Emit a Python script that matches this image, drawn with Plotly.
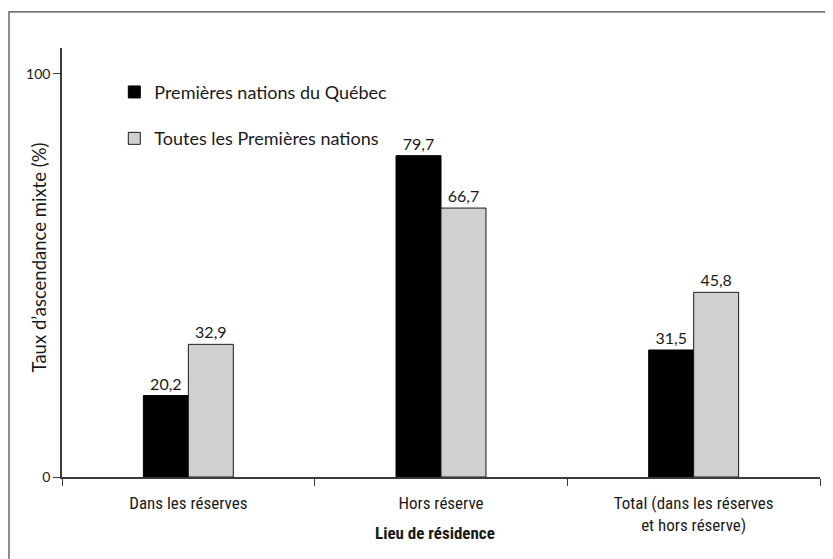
import plotly.graph_objects as go

# Données
lieux = ["Dans les réserves", "Hors réserve", "Total (dans les réserves<br>et hors réserve)"]
quebec = [20.2, 79.7, 31.5]
toutes = [32.9, 66.7, 45.8]
noms_series = ["Premières nations du Québec", "Toutes les Premières nations"]
y_ticks = [0, 100]
y_tick_labels = ["0", "100"]

police_normale = "Lato, 'Open Sans', sans-serif"
police_etroite = "'Liberation Sans Narrow', 'Roboto Condensed', 'Liberation Sans', sans-serif"

fig = go.Figure()
fig.add_trace(go.Bar(
    x=lieux, y=quebec, name=noms_series[0], legendgroup="q",
    marker=dict(color="#000000", line=dict(color="#000000", width=1)),
    texttemplate="%{y:.1f}", textposition="outside", cliponaxis=False,
    textfont=dict(family=police_normale, size=16, color="#1a1a1a"),
))
fig.add_trace(go.Bar(
    x=lieux, y=toutes, name=noms_series[1], legendgroup="t",
    marker=dict(color="#d0d0d0", line=dict(color="#1a1a1a", width=1)),
    texttemplate="%{y:.1f}", textposition="outside", cliponaxis=False,
    textfont=dict(family=police_normale, size=16, color="#1a1a1a"),
))

# cadre autour de la figure (bords droit et bas hors de l'image)
fig.add_shape(type="rect", xref="paper", yref="paper",
              x0=-0.0699, x1=1.1, y0=-0.3, y1=1.084,
              line=dict(color="#444444", width=1.2), layer="below")

# titres des axes
fig.add_annotation(text="Taux d’ascendance mixte (%)", textangle=-90,
                   xref="paper", yref="paper", x=-0.0303, y=0.512,
                   xanchor="center", yanchor="middle",
                   showarrow=False, font=dict(family=police_normale, size=18.5, color="#1a1a1a"))
fig.add_annotation(text="<b>Lieu de résidence</b>",
                   xref="paper", yref="paper", x=0.492, y=-0.131, yanchor="middle",
                   showarrow=False, font=dict(family=police_etroite, size=17, color="#1a1a1a"))

# la page html ajoute une marge de 8 px autour du graphique : marges réduites d'autant
fig.update_layout(
    width=833, height=559,
    margin=dict(l=54, r=21, t=40, b=90),
    paper_bgcolor="white", plot_bgcolor="white",
    barmode="group", bargap=0.644, bargroupgap=0,
    separators=", ",
    showlegend=True,
    legend=dict(x=0.069, y=0.94, xanchor="left", yanchor="top",
                traceorder="grouped", tracegroupgap=20,
                font=dict(family=police_normale, size=18, color="#1a1a1a"),
                bgcolor="rgba(0,0,0,0)"),
    xaxis=dict(showline=True, linecolor="#3a3a3a", linewidth=1.5,
               ticks="outside", tickson="boundaries", ticklen=7, tickcolor="#3a3a3a",
               ticklabelstandoff=10,
               tickfont=dict(family=police_etroite, size=17, color="#1a1a1a"),
               showgrid=False, fixedrange=True),
    yaxis=dict(range=[0, 106.4], showline=True, linecolor="#3a3a3a", linewidth=1.5,
               ticks="outside", ticklen=7, tickcolor="#3a3a3a",
               tickvals=y_ticks, ticktext=y_tick_labels,
               tickfont=dict(family=police_normale, size=14, color="#1a1a1a"),
               showgrid=False, zeroline=False, fixedrange=True),
)

fig.write_html("out.html")
